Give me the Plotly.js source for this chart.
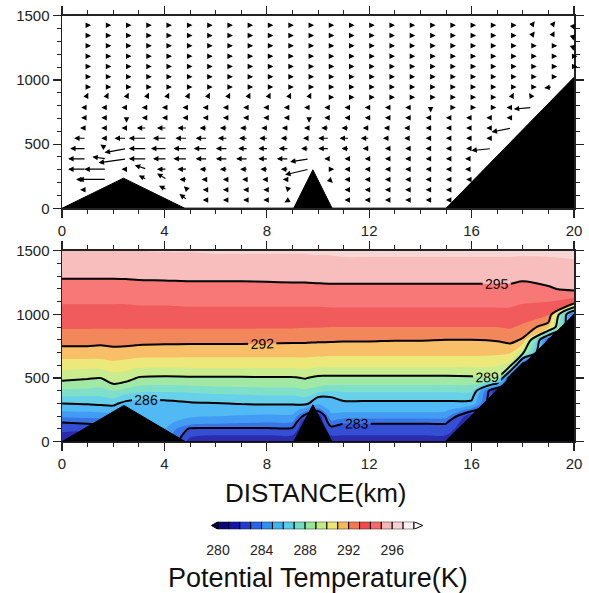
<!DOCTYPE html>
<html><head><meta charset="utf-8">
<script src="https://cdn.plot.ly/plotly-3.0.1.min.js"></script>
<style>html,body{margin:0;padding:0;background:#fff}#chart{width:589px;height:593px}</style>
</head><body><div id="chart"></div>
<script>
const FONT = 'Liberation Sans, Arial, Helvetica, sans-serif';

// ---------- terrain (km, m) ----------
const terrainTopX = [0, 2.4, 4.8, 9.05, 9.8, 10.55, 15.0, 20, 20, 0];
const terrainTopZ = [0, 235, 0, 0, 300, 0, 0, 1020, 0, 0];
const terrainBotX = [0, 2.42, 4.82, 9.05, 9.8, 10.55, 14.96, 20, 20, 0];
const terrainBotZ = [0, 285, 0, 0, 290, 0, 0, 1000, 0, 0];

// ---------- wind vectors (top panel) ----------
const vecX = [0.94,1.73,2.52,3.31,4.1,4.9,5.69,6.48,7.27,8.06,8.86,9.65,10.44,11.23,12.02,12.81,13.6,14.4,15.19,15.98,16.77,17.56,18.35,19.15,19.94];
const vecZ = [1425,1345,1265,1185,1105,1025,945,865,785,705,625,545,465,385,305,225,145,65];
const N = null;
const uWind = [
 [.5,.5,.5,.5,.5,.5,.5,.5,.5,.5,.5,.5,.5,.5,.5,.5,.5,.5,.5,.5,.5,.5,.3,.3,.2],
 [.5,.5,.5,.5,.5,.5,.5,.5,.5,.5,.5,.5,.5,.5,.5,.5,.5,.5,.5,.5,.5,.5,.3,.2,.1],
 [.5,.5,.5,.5,.5,.5,.5,.5,.5,.5,.5,.5,.5,.5,.5,.5,.5,.5,.5,.5,.5,.5,.5,.5,.1],
 [.5,.5,.5,.5,.5,.5,.5,.5,.5,.5,.5,.5,.5,.5,.5,.5,.5,.5,.5,.5,.5,.8,1.5,1.5,.3],
 [.5,.5,.5,.5,.5,.5,.5,.5,.5,.5,.5,.5,.5,.5,.5,.5,.5,.5,.5,.5,.5,1,2,2.5,1.5],
 [.5,.5,.5,.5,.5,.5,.5,.5,.5,.5,.5,.5,.5,.5,.5,.5,.5,.5,.5,.5,.5,.8,2.5,2,N],
 [.5,.5,.5,.5,.5,.5,.5,.5,.5,.5,.5,.5,.5,.5,.5,.5,.5,.5,.5,.5,.5,.5,2,-4,N],
 [.2,.2,.2,.2,.2,.2,.2,.2,.2,.2,.2,.2,.5,.5,.5,.5,.5,.5,.5,.5,.5,.2,-.3,N,N],
 [-.5,-.5,-.5,-.5,-.5,-.5,-.5,-.5,-.5,-.5,-.5,-.5,-.5,-.5,-.5,-.5,-.5,0,.5,.5,.5,-.5,-9,N,N],
 [-.5,-.5,0,-.5,-.5,-.5,-.5,-.5,-.5,-.5,-.5,0,-.5,-.5,-.5,-.5,-.5,-.5,-.5,-.5,-.5,-1,N,N,N],
 [-3,-1,-1,-5,-5,-5,-4,-4,-4,-3.5,-3.5,-1,-4,-4,-3.5,-3,-3,-2,-.5,-.5,-.5,-10,N,N,N],
 [-6,-2,-6,-9,-7,-6,-6,-5,-4.5,-4.5,-4,-3,-5.5,-5,-4.5,-3.5,-3,-2,-1,-1,-.5,N,N,N,N],
 [-8,-3,-11,-9,-8,-7,-7,-6,-5,-5,-5,-4,-5.5,-4,-3.5,-2.5,-2,-1,-2,-2,-10,N,N,N,N],
 [-9,-7,-14,-9,-7,-7,-6,-6,-6,-5,-6,-9.5,-2,-1.5,-1,-1,-1,-1,-2.5,-3,N,N,N,N,N],
 [-9,-11,-2,-6,-5,-5,-4,-4,-4,-4,-4,-12,.5,-.5,-.5,-.5,-.5,-.5,-.5,-3,N,N,N,N,N],
 [-5,-14,N,-4,-5,-4,-3,-2,-3,-3,-3,N,.3,-.5,-.5,-.5,-.5,-.5,-.5,-.5,N,N,N,N,N],
 [-3,N,N,N,-4,-1,-1,-1,-1,-1,-.5,N,N,-.5,-.5,-.5,-.5,-.5,-.5,N,N,N,N,N,N],
 [N,N,N,N,N,-4,-.5,-.5,-.5,-.5,-.5,N,N,-.5,-.5,-.5,-.5,-.5,-.5,N,N,N,N,N,N]
];
const wWind = [
 [0,0,0,0,0,0,0,0,0,0,0,0,0,0,0,0,0,0,0,0,0,0,.4,.4,-.4],
 [0,0,0,0,0,0,0,0,0,0,0,0,0,0,0,0,0,0,0,0,0,0,.4,.4,-.4],
 [0,0,0,0,0,0,0,0,0,0,0,0,0,0,0,0,0,0,0,0,0,0,0,0,-.4],
 [0,0,0,0,0,0,0,0,0,0,0,0,0,0,0,0,0,0,0,0,0,0,0,0,0],
 [0,0,0,0,0,0,0,0,0,0,0,0,0,0,0,0,0,0,0,0,0,0,0,0,0],
 [0,0,0,0,0,0,0,0,0,0,0,0,0,0,0,0,0,0,0,0,0,0,0,0,0],
 [0,0,0,0,0,0,0,0,0,0,0,0,0,0,0,0,0,0,0,0,0,0,0,-.5,0],
 [.4,.4,.4,.4,.4,.4,.4,.4,.4,.4,.4,.4,0,0,0,0,0,0,0,0,0,.4,.5,0,0],
 [0,0,0,0,0,0,0,0,0,0,0,0,0,0,0,0,0,-.5,0,0,0,0,-.8,0,0],
 [0,0,-.5,0,0,0,0,0,0,0,0,-.5,0,0,0,0,0,0,0,0,0,0,0,0,0],
 [0,0,0,0,0,0,0,0,0,0,0,0,0,0,0,0,0,0,0,0,0,-2,0,0,0],
 [0,0,0,0,0,0,0,0,0,0,0,0,0,0,0,0,0,0,0,0,0,0,0,0,0],
 [0,2,-2,0,0,0,0,0,0,0,0,0,0,0,0,0,0,0,0,0,-1,0,0,0,0],
 [0,1,-2,0,0,0,0,0,0,0,0,-1.5,0,0,0,0,0,0,0,0,0,0,0,0,0],
 [0,0,0,2,0,0,0,0,0,0,0,-2.8,0,0,0,0,0,0,0,0,0,0,0,0,0],
 [0,0,0,2,3,0,0,0,0,0,0,0,-.3,0,0,0,0,0,0,0,0,0,0,0,0],
 [0,0,0,0,2,1,0,0,0,0,.5,0,0,0,0,0,0,0,0,0,0,0,0,0,0],
 [0,0,0,0,0,3,0,0,0,0,-.3,0,0,0,0,0,0,0,0,0,0,0,0,0,0]
];

// ---------- potential temperature (bottom panel) ----------
const thetaX = [0,1,1.5,2,2.5,3,4,5,6,7,8,9,9.5,10,10.5,11,12,13,14,15,16,17,17.5,18,19,20];
const thetaZ = [0,50,100,150,200,250,300,350,400,450,500,600,700,800,900,1000,1100,1200,1300,1400,1500];
const thetaCols = [
 [281.0,281.7,282.3,283.0,284.2,285.2,286.0,286.9,287.8,288.6,289.3,290.4,291.6,292.4,293.1,293.6,294.1,294.6,295.1,295.6,296.0],
 [281.0,281.6,282.2,283.2,284.3,285.3,286.1,286.9,287.7,288.5,289.1,290.4,291.6,292.4,293.1,293.6,294.1,294.6,295.1,295.6,296.0],
 [281.0,281.6,282.3,283.3,284.4,285.4,286.2,286.9,287.6,288.4,289.0,290.4,291.6,292.3,293.1,293.6,294.1,294.6,295.1,295.6,296.0],
 [282.0,282.5,283.0,283.8,284.5,285.6,286.2,287.2,288.0,288.95,289.5,290.6,291.7,292.35,293.1,293.6,294.1,294.6,295.1,295.6,296.0],
 [284.0,284.3,284.6,284.8,285.0,285.2,285.7,286.5,287.6,288.7,289.4,290.5,291.6,292.4,293.1,293.6,294.1,294.65,295.1,295.6,296.0],
 [284.8,284.9,285.0,285.1,285.2,285.4,285.7,286.2,287.3,288.2,288.9,290.3,291.5,292.35,293.1,293.65,294.15,294.65,295.15,295.6,296.0],
 [284.6,284.8,285.0,285.2,285.3,285.5,285.8,286.2,287.2,288.1,288.8,290.3,291.45,292.3,293.1,293.65,294.15,294.7,295.15,295.6,296.05],
 [281.6,282.2,282.8,284.6,285.1,285.5,285.9,286.4,287.3,288.2,288.85,290.3,291.4,292.3,293.1,293.7,294.2,294.7,295.2,295.65,296.05],
 [281.5,282.0,282.8,284.3,285.0,285.6,285.95,286.6,287.4,288.3,288.85,290.3,291.4,292.3,293.1,293.7,294.2,294.7,295.2,295.7,296.1],
 [281.5,282.0,282.8,284.1,284.9,285.5,286.05,286.7,287.5,288.35,288.85,290.3,291.4,292.3,293.1,293.7,294.2,294.7,295.2,295.7,296.1],
 [281.5,282.0,282.8,284.0,284.8,285.5,286.1,286.8,287.6,288.4,288.9,290.3,291.4,292.25,293.1,293.7,294.2,294.75,295.2,295.7,296.1],
 [281.5,282.0,282.8,283.9,284.8,285.5,286.1,286.8,287.6,288.4,288.9,290.3,291.4,292.2,293.1,293.7,294.2,294.75,295.25,295.7,296.1],
 [281.0,281.0,281.0,281.0,282.5,284.5,286.3,287.0,287.8,288.6,289.05,290.35,291.4,292.2,293.05,293.7,294.2,294.75,295.25,295.7,296.1],
 [281.0,281.0,281.0,281.0,281.0,283.5,285.2,286.0,287.4,288.3,288.75,290.25,291.35,292.15,293.05,293.7,294.2,294.8,295.25,295.7,296.15],
 [281.5,282.0,282.6,283.6,284.7,285.3,285.7,286.0,287.1,288.1,288.75,290.2,291.3,292.15,293.0,293.7,294.25,294.8,295.3,295.75,296.15],
 [281.5,282.0,282.5,283.1,284.5,285.3,285.8,286.3,287.2,288.1,288.75,290.2,291.3,292.1,293.0,293.7,294.25,294.8,295.3,295.8,296.2],
 [281.5,282.0,282.5,283.1,284.5,285.3,285.8,286.3,287.2,288.1,288.75,290.2,291.3,292.1,293.0,293.7,294.25,294.8,295.3,295.8,296.2],
 [281.5,282.0,282.5,283.1,284.5,285.3,285.8,286.3,287.2,288.1,288.75,290.2,291.3,292.05,293.0,293.7,294.25,294.8,295.3,295.8,296.2],
 [281.5,282.0,282.5,283.1,284.5,285.3,285.8,286.3,287.2,288.1,288.75,290.2,291.3,292.05,293.0,293.7,294.25,294.8,295.3,295.8,296.2],
 [281.5,282.0,282.5,283.1,284.4,285.2,285.8,286.3,287.2,288.1,288.75,290.2,291.3,292.0,293.0,293.7,294.25,294.8,295.3,295.8,296.2],
 [281.0,281.0,281.0,281.0,281.0,283.5,285.7,286.3,287.2,288.1,288.8,290.2,291.3,292.0,293.0,293.7,294.25,294.8,295.3,295.8,296.2],
 [281.0,281.0,281.0,281.0,281.0,281.0,281.0,281.0,281.0,285.5,288.9,290.1,291.2,292.1,293.0,293.7,294.25,294.8,295.3,295.8,296.2],
 [282.0,282.0,282.0,282.0,282.0,282.0,282.0,282.0,282.0,282.0,282.0,289.6,291.1,292.35,293.1,293.7,294.25,294.8,295.3,295.8,296.2],
 [282.0,282.0,282.0,282.0,282.0,282.0,282.0,282.0,282.0,282.0,282.0,282.0,289.3,291.85,292.8,293.5,294.1,294.7,295.2,295.75,296.2],
 [283.0,283.0,283.0,283.0,283.0,283.0,283.0,283.0,283.0,283.0,283.0,283.0,283.0,283.0,291.3,293.2,294.0,294.9,295.35,295.8,296.2],
 [283.0,283.0,283.0,283.0,283.0,283.0,283.0,283.0,283.0,283.0,283.0,283.0,283.0,283.0,283.0,283.0,293.5,295.2,295.6,295.9,296.2]
];

// ---------- colour levels ----------
const levels = [280,281,282,283,284,285,286,287,288,289,290,291,292,293,294,295,296,297,298];
const levelColors = ['#05053a','#0a0a78','#1515a8','#1f3cd0','#2566e6','#2f92f2','#3fb2f2','#58cce8','#72dcc4',
  '#96e69a','#c2ea82','#ece66c','#f8b858','#f07a4a','#f04a4a','#f86a6a','#f8b6b6','#f8d2d2','#fff0f0','#ffffff'];
const lineLevels = [283, 286, 289, 292, 295];
const cbTicks = [280, 284, 288, 292, 296];
const xTicks = [0, 4, 8, 12, 16, 20];
const xMinor = [0,1,2,3,4,5,6,7,8,9,10,11,12,13,14,15,16,17,18,19,20];
const zTicks = [0, 500, 1000, 1500];
const zMinor = [0,100,200,300,400,500,600,700,800,900,1000,1100,1200,1300,1400,1500];

// ---------- build ----------
const thetaGrid = thetaZ.map((_, r) => thetaCols.map(col => col[r]));
const nc = levels.length;
const colorscale = levelColors.map((c, i) => [i / nc, c]);

const W = 589, H = 593;
const xDom = [62 / W, 574 / W];
const yTopDom = [1 - 208.3 / H, 1 - 15.7 / H];
const yBotDom = [1 - 441.7 / H, 1 - 250.7 / H];

function axX(anchor) {
  return {domain: xDom, range: [0, 20], anchor: anchor, tickmode: 'array', tickvals: xTicks,
    ticks: 'outside', ticklen: 8, tickwidth: 1.2, tickcolor: '#222',
    minor: {tickmode: 'array', tickvals: xMinor, ticks: 'outside', ticklen: 4, tickwidth: 1, tickcolor: '#222'},
    showline: true, linewidth: 1.5, linecolor: '#222', mirror: 'allticks',
    showgrid: false, zeroline: false, tickfont: {size: 15, family: FONT, color: '#222'}};
}
function axZ(anchor, dom) {
  return {domain: dom, range: [0, 1500], anchor: anchor, tickmode: 'array', tickvals: zTicks,
    ticks: 'outside', ticklen: 8, tickwidth: 1.2, tickcolor: '#222',
    minor: {tickmode: 'array', tickvals: zMinor, ticks: 'outside', ticklen: 4, tickwidth: 1, tickcolor: '#222'},
    showline: true, linewidth: 1.5, linecolor: '#222', mirror: 'allticks',
    showgrid: false, zeroline: false, tickfont: {size: 15, family: FONT, color: '#222'}};
}

const traces = [];
traces.push({type: 'scatter', x: terrainTopX, y: terrainTopZ, xaxis: 'x', yaxis: 'y', mode: 'lines',
  fill: 'toself', fillcolor: '#000', line: {color: '#000', width: 1}, hoverinfo: 'skip'});
traces.push({type: 'contour', x: thetaX, y: thetaZ, z: thetaGrid, xaxis: 'x2', yaxis: 'y2',
  autocontour: false, contours: {start: levels[0], end: levels[nc - 1], size: 1, coloring: 'fill', showlines: false},
  colorscale: colorscale, showscale: false, line: {width: 0, smoothing: 0.8}, opacity: 0.9, hoverinfo: 'skip'});
traces.push({type: 'contour', x: thetaX, y: thetaZ, z: thetaGrid, xaxis: 'x2', yaxis: 'y2',
  autocontour: false, contours: {start: lineLevels[0], end: lineLevels[lineLevels.length - 1], size: 3, coloring: 'none',
  showlabels: true, labelfont: {size: 14, family: FONT, color: '#000'}},
  line: {color: '#000', width: 2, smoothing: 0.8}, showscale: false, hoverinfo: 'skip'});
traces.push({type: 'scatter', x: terrainBotX, y: terrainBotZ, xaxis: 'x2', yaxis: 'y2', mode: 'lines',
  fill: 'toself', fillcolor: '#000', line: {color: '#000', width: 1}, hoverinfo: 'skip'});

// colour bar
const boxMid = levels.slice(0, nc - 1).map(l => l + 0.5);
const boxOnes = boxMid.map(() => 1);
traces.push({type: 'bar', x: boxMid, y: boxOnes, width: 1, xaxis: 'x3', yaxis: 'y3',
  marker: {color: levelColors.slice(1, nc), line: {color: '#000', width: 1}}, hoverinfo: 'skip'});
traces.push({type: 'scatter', x: [levels[0], levels[0] - 0.6, levels[0], levels[0]], y: [0, 0.5, 1, 0],
  xaxis: 'x3', yaxis: 'y3', mode: 'lines', fill: 'toself', fillcolor: levelColors[0], line: {color: '#000', width: 1}, hoverinfo: 'skip'});
traces.push({type: 'scatter', x: [levels[nc - 1], levels[nc - 1] + 0.8, levels[nc - 1], levels[nc - 1]], y: [0, 0.5, 1, 0],
  xaxis: 'x3', yaxis: 'y3', mode: 'lines', fill: 'toself', fillcolor: levelColors[nc], line: {color: '#000', width: 1}, hoverinfo: 'skip'});

// vectors
const annotations = [];
const K = 2, MINL = 5;
for (let r = 0; r < vecZ.length; r++) {
  for (let c = 0; c < vecX.length; c++) {
    const u = uWind[r][c];
    if (u === null) continue;
    const w = wWind[r][c];
    const mag = Math.sqrt(u * u + w * w);
    if (mag === 0) continue;
    const L = Math.max(MINL, mag * K);
    const dx = u / mag * L, dy = w / mag * L;
    annotations.push({x: vecX[c], y: vecZ[r], xref: 'x', yref: 'y', text: '', showarrow: true,
      arrowhead: 2, arrowsize: 1, arrowwidth: 1.1, arrowcolor: '#000', standoff: 0,
      xshift: dx, yshift: dy, ax: -dx, ay: dy});
  }
}
annotations.push({xref: 'paper', yref: 'paper', x: 316 / W, y: 1 - 493 / H, xanchor: 'center', yanchor: 'middle',
  text: 'DISTANCE(km)', showarrow: false, font: {size: 26, family: FONT, color: '#111'}});
annotations.push({xref: 'paper', yref: 'paper', x: 317.5 / W, y: 1 - 578 / H, xanchor: 'center', yanchor: 'middle',
  text: 'Potential Temperature(K)', showarrow: false, font: {size: 27, family: FONT, color: '#111'}});

const layout = {
  width: W, height: H, margin: {l: 0, r: 0, t: 0, b: 0}, paper_bgcolor: '#fff', plot_bgcolor: 'rgba(0,0,0,0)',
  showlegend: false, font: {family: FONT, color: '#222'}, bargap: 0,
  xaxis: axX('y'), yaxis: axZ('x', yTopDom),
  xaxis2: axX('y2'), yaxis2: axZ('x2', yBotDom),
  xaxis3: {domain: [207.1 / W, 424.9 / W], range: [279, 299], anchor: 'y3', tickmode: 'array', tickvals: cbTicks,
    ticks: 'outside', ticklen: 8, tickcolor: 'rgba(0,0,0,0)', showline: false, showgrid: false, zeroline: false,
    tickfont: {size: 14, family: FONT, color: '#222'}},
  yaxis3: {domain: [1 - 529.3 / H, 1 - 521.7 / H], range: [0, 1], anchor: 'x3', visible: false},
  annotations: annotations
};
Plotly.newPlot('chart', traces, layout, {staticPlot: true, displayModeBar: false});
</script></body></html>
